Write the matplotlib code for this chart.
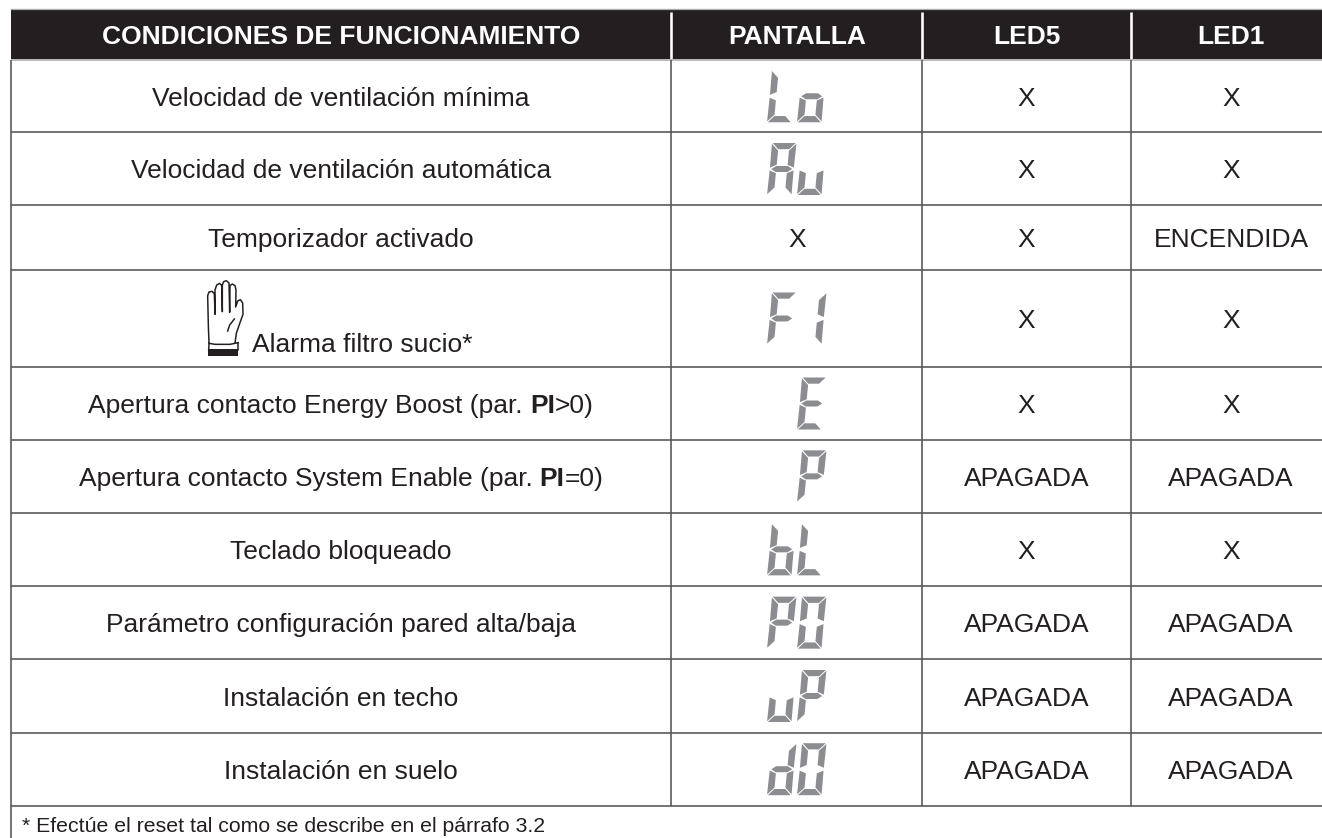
import matplotlib
matplotlib.use("Agg")
import matplotlib.pyplot as plt
from matplotlib.patches import Polygon, Rectangle

headers = ["CONDICIONES DE FUNCIONAMIENTO", "PANTALLA", "LED5", "LED1"]
conditions = [
    "Velocidad de ventilación mínima",
    "Velocidad de ventilación automática",
    "Temporizador activado",
    "Alarma filtro sucio*",
    "Apertura contacto Energy Boost (par. **PI**>0)",
    "Apertura contacto System Enable (par. **PI**=0)",
    "Teclado bloqueado",
    "Parámetro configuración pared alta/baja",
    "Instalación en techo",
    "Instalación en suelo",
]
pantalla = ["Lo", "Au", "X", "F1", " E", " P", "bL", "P0", "uP", "d0"]
led5 = ["X", "X", "X", "X", "X", "APAGADA", "X", "APAGADA", "APAGADA", "APAGADA"]
led1 = ["X", "X", "ENCENDIDA", "X", "X", "APAGADA", "X", "APAGADA", "APAGADA", "APAGADA"]
footnote = "* Efectúe el reset tal como se describe en el párrafo 3.2"

# layout in pixels
W, H = 1322, 838
col_x = [11, 671, 922, 1131, 1322]
col_c = [341, 797, 1026.5, 1231]
row_y = [60, 132.5, 205.5, 270, 367, 440, 512.7, 586, 659.3, 732.7, 805.7]
head_top, head_bot = 9.5, 59.5
SEGS = {
    "L": "def", "o": "cdeg", "A": "abcefg", "u": "cde", "F": "aefg", "1": "bc",
    "E": "adefg", "P": "abefg", "b": "cdefg", "0": "abcdef", "d": "bcdeg", " ": "",
}
INK = "#231f20"
GREY = "#8b8d90"
LINE = "#555557"

plt.rcParams["font.family"] = ["Liberation Sans", "DejaVu Sans"]
fig = plt.figure(figsize=(W / 100, H / 100), dpi=100, facecolor="white")
ax = fig.add_axes([0, 0, 1, 1])
ax.set_xlim(0, W)
ax.set_ylim(H, 0)
ax.axis("off")
px = 72 / 100
FS = 19.0


def seg_polys(x0, ybot):
    w, h, t, g = 24.5, 52.0, 6.8, 0.8
    m = h / 2
    s = 5.0 / h
    e = t / 2 + 0.8
    P = {
        "a": [(g, h), (w - g, h), (w - t, h - t + 0.6), (t, h - t + 0.6)],
        "d": [(g, 0), (w - g, 0), (w - t, t - 0.6), (t, t - 0.6)],
        "g": [(1.8, m), (t - 0.4, m + t / 2 - 0.4), (w - t + 0.4, m + t / 2 - 0.4), (w - 1.8, m),
              (w - t + 0.4, m - t / 2 + 0.4), (t - 0.4, m - t / 2 + 0.4)],
        "f": [(0, h - g), (t, h - t - g), (t, m + e), (0.3, m + 1.4)],
        "e": [(0, g), (t, t + g), (t, m - e), (0.3, m - 1.4)],
        "b": [(w, h - g), (w - t, h - t - g), (w - t, m + e), (w - 0.3, m + 1.4)],
        "c": [(w, g), (w - t, t + g), (w - t, m - e), (w - 0.3, m - 1.4)],
    }
    return {k: [(x0 + u + s * v, ybot - v) for u, v in pts] for k, pts in P.items()}


def draw_display(text, yc):
    for slot, ch in zip((767, 797), text):
        polys = seg_polys(slot, yc + 26)
        for k in SEGS[ch]:
            ax.add_patch(Polygon(polys[k], closed=True, fc=GREY, ec="none", zorder=3))


def text_w(s, **kw):
    r = fig.canvas.get_renderer()
    a = ax.text(0, 0, "|" + s + "|", fontsize=FS, **kw)
    b = ax.text(0, 0, "||", fontsize=FS, **kw)
    w = a.get_window_extent(r).width - b.get_window_extent(r).width
    a.remove()
    b.remove()
    return w


def rich_text(s, xc, y):
    parts = s.split("**")
    weights = ["bold" if i % 2 else "normal" for i in range(len(parts))]
    widths = [text_w(p, fontweight=w) for p, w in zip(parts, weights)]
    x = xc - sum(widths) / 2
    for p, w, wd in zip(parts, weights, widths):
        ax.text(x, y, p, fontsize=FS, fontweight=w, color=INK, ha="left", va="baseline")
        x += wd


def draw_glove():
    pts = [(42, 205), (40, 150), (38, 62), (42, 51), (51, 49), (58, 56), (60, 118), (60, 45), (65, 30),
           (74, 25), (81, 32), (82, 110), (82, 30), (86, 20), (94, 17), (102, 24), (104, 112), (105, 32),
           (112, 27), (120, 32), (123, 45), (122, 96), (128, 78), (136, 74), (143, 84), (144, 118),
           (136, 140), (124, 175), (120, 205)]
    crease = [(98, 168), (104, 150), (118, 132)]
    to_px = lambda p: (195 + p[0] / 3, 275 + p[1] / 3)
    ax.add_patch(Polygon([to_px(p) for p in pts], closed=False, fc="none", ec=INK, lw=1.5 * px,
                         joinstyle="round", zorder=3))
    ax.plot(*zip(*[to_px(p) for p in crease]), color=INK, lw=1.5 * px, zorder=3)
    ax.plot(*zip(*[to_px(p) for p in [(42, 205), (60, 208), (105, 208), (120, 205), (130, 203)]]),
            color=INK, lw=1.5 * px, zorder=3)
    ax.plot(*zip(*[to_px(p) for p in [(42, 205), (41, 225)]]), color=INK, lw=1.5 * px, zorder=3)
    ax.plot(*zip(*[to_px(p) for p in [(130, 203), (130, 225)]]), color=INK, lw=1.5 * px, zorder=3)
    ax.add_patch(Polygon([to_px(p) for p in [(40, 222), (130, 222), (130, 243), (40, 243)]],
                         closed=True, fc=INK, ec="none", zorder=3))


# header band
ax.add_patch(Rectangle((col_x[0], head_top), W - col_x[0], head_bot - head_top, fc=INK, ec="none", zorder=1))
ax.plot([col_x[0], W], [head_top, head_top], color="#a8a8a8", lw=1.3 * px, zorder=2)
for x in col_x[1:4]:
    ax.plot([x, x], [head_top + 3, head_bot - 0.5], color="white", lw=2.6 * px, zorder=2, solid_capstyle="butt")
for xc, h in zip(col_c, headers):
    ax.text(xc, 44, h, color="white", fontsize=19.0, fontweight="bold",
            ha="center", va="baseline", zorder=3)

# grid
for y in row_y:
    ax.plot([col_x[0], W], [y, y], color=LINE if y > 60 else "#a8a8a8", lw=1.6 * px, zorder=2, solid_capstyle="butt")
ax.plot([col_x[0]] * 2, [head_bot + 1, H], color=LINE, lw=1.6 * px, zorder=2, solid_capstyle="butt")
for x in col_x[1:4]:
    ax.plot([x, x], [head_bot + 1, row_y[-1]], color=LINE, lw=1.6 * px, zorder=2, solid_capstyle="butt")

# rows
for i in range(len(conditions)):
    yc = (row_y[i] + row_y[i + 1]) / 2
    base = yc + 9.5
    if conditions[i].startswith("Alarma"):
        ax.text(252, yc + 33, conditions[i], fontsize=FS, color=INK, ha="left", va="baseline")
        draw_glove()
    else:
        rich_text(conditions[i], col_c[0], base)
    if pantalla[i] == "X":
        ax.text(col_c[1], base, "X", fontsize=FS, color=INK, ha="center", va="baseline")
    else:
        draw_display(pantalla[i], yc)
    ax.text(col_c[2], base, led5[i], fontsize=FS, color=INK, ha="center", va="baseline")
    ax.text(col_c[3], base, led1[i], fontsize=FS, color=INK, ha="center", va="baseline")

ax.text(22, 832, footnote, fontsize=15.3, color=INK, ha="left", va="baseline")
fig.savefig("out.png", dpi=100, facecolor="white")
